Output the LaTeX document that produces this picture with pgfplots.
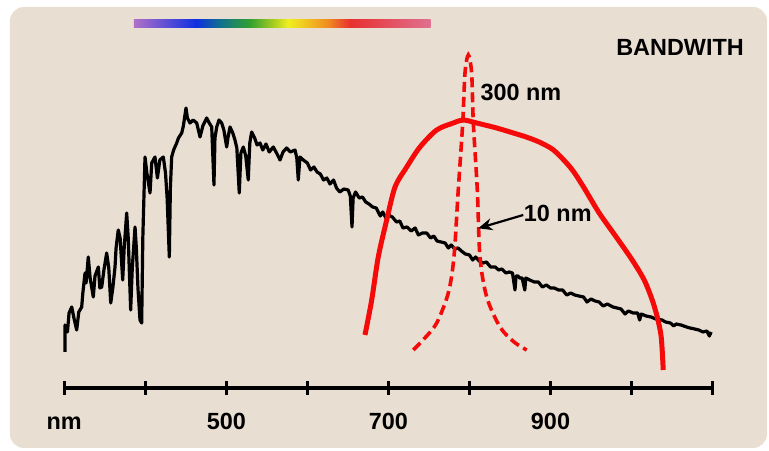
\documentclass[border=0pt]{standalone}
\usepackage{pgfplots}
\pgfplotsset{compat=1.18}
\usepackage{fontspec}
\setmainfont{Liberation Sans}
\usetikzlibrary{arrows.meta}
\definecolor{bgbeige}{RGB}{233,222,210}
\definecolor{myred}{RGB}{245,10,10}
\pgfdeclarehorizontalshading{rainbowbar}{100bp}{%
 color(0bp)=(rgb,255:red,176;green,112;blue,200);
 color(25bp)=(rgb,255:red,176;green,112;blue,200);
 color(35.5bp)=(rgb,255:red,16;green,48;blue,224);
 color(39.5bp)=(rgb,255:red,16;green,112;blue,144);
 color(44.5bp)=(rgb,255:red,48;green,160;blue,48);
 color(48.8bp)=(rgb,255:red,176;green,208;blue,32);
 color(51bp)=(rgb,255:red,240;green,240;blue,32);
 color(57.5bp)=(rgb,255:red,240;green,144;blue,32);
 color(61.5bp)=(rgb,255:red,232;green,48;blue,48);
 color(75bp)=(rgb,255:red,224;green,112;blue,144);
 color(100bp)=(rgb,255:red,224;green,112;blue,144)}
\newcommand{\bigfont}{\fontsize{23.5}{26}\selectfont\bfseries}
\begin{document}
\begin{tikzpicture}
\begin{axis}[
  scale only axis,
  width=648.4bp, height=388bp,
  xmin=300, xmax=1100, ymin=0, ymax=388,
  clip=false,
  axis on top,
  axis x line=bottom,
  axis y line=none,
  axis line style={-, line width=3.4bp},
  xtick={300,400,...,1100},
  xticklabels={nm,,500,,700,,900,,},
  tick align=center,
  major tick length=14bp,
  every tick/.style={black, line width=2.8bp},
  xticklabel style={anchor=base, yshift=-35bp, font=\bigfont},
]
% background
\fill[white] (axis cs:220.79,-63) rectangle (axis cs:1169.6,388);
\fill[bgbeige, rounded corners=14bp] (axis cs:233.1,-60) rectangle (axis cs:1167.1,381);
% rainbow bar
\shade[shading=rainbowbar] (axis cs:386,360.7) rectangle (axis cs:752,368);
% solar spectrum
\addplot[black, line width=3.2bp, line join=round] coordinates {
(301.0,36) (301.0,63) (304,56) (306,75) (309.3,81) (312,70) (315.4,58) (318,76) (321.6,81) (323,95) (325.7,115) (327,105) (329.7,131) (332,110) (335.9,91) (338,112) (342.1,121) (344,100) (346.3,101) (349,118) (352.4,135) (355,120) (357.4,85) (360,100) (362.7,121) (364,140) (366.7,158) (369,150) (372.2,108) (374,140) (377.1,175) (379,150) (382,78) (384,120) (387.4,161) (389,140) (391,100) (393.5,68) (395.6,65) (397,150) (399.7,231) (402,215) (405.9,195) (408,225) (412,231) (415,210) (418,228) (422.3,231) (425,215) (427,190) (429.7,131) (431,200) (432.6,231) (435,238) (438.8,245) (441,250) (445,255) (447,262) (450.3,280) (452,270) (455.2,265) (459,268) (463.5,265) (467.6,251) (471,262) (475.8,270) (479,265) (482,261) (484.8,203) (486,250) (488.2,261) (491,268) (494.3,265) (497,258) (500.5,241) (502,250) (504.6,261) (508,255) (510.7,248) (513,240) (516,195) (518,235) (521,241) (524,232) (527.1,208) (529,245) (531.3,256) (535,250) (538,243) (541.6,245) (545,238) (549,244) (553,236) (558,241) (562,235) (566.3,228) (570,236) (574.5,240) (579,236) (584.8,238) (587,230) (588.8,208) (590.9,231) (595,228) (600,225) (604,218) (608.1,221) (612,216) (616,214) (620,208) (624,210) (628,204) (632.3,208) (636,200) (640,196) (645,199) (650.4,198) (653,192) (655.1,161) (656.5,190) (659.5,196) (664,190) (668,191) (672,186) (676,184) (680.6,181) (685,180) (690,172) (693,176) (697,170) (700,173) (704.9,171) (710,166) (714,167) (718,160) (723,161) (728,157) (733,160) (737,153) (742,155) (747.3,155) (752,150) (756,152) (760,147) (765,146) (770,145) (774,140) (777.5,143) (782,139) (786,140) (790,137) (795,134) (800,133) (804,128) (807.7,131) (812,127) (817,125) (821,126) (826,121) (831.9,121) (836,118) (840,119) (845,115) (849,116) (853.1,115) (856.2,98) (857.5,112) (859.9,112) (862,110) (865,110) (868.3,98) (869.5,110) (874.3,108) (880,106) (885,106) (890,101) (895,103) (900,100) (904.6,100) (910,98) (915,98) (920,93) (925,95) (930,93) (935,92) (940.8,91) (945,86) (950,89) (955,87) (960,86) (965,82) (970,84) (977.1,81) (982,80) (987,79) (992,74) (996,77) (1002,75) (1007.5,75) (1010,68) (1012,74) (1018,72) (1024,71) (1030,69) (1037.6,68) (1042,66) (1048,65) (1052,62) (1055,64) (1061,63) (1067.9,61) (1072,60) (1078,59) (1083,58) (1088,56) (1093,57) (1096,52) (1098.2,56)
};
% broad band filter (300 nm)
\addplot[myred, line width=5bp, smooth, tension=0.5] coordinates {
(671.1,53) (679.4,88) (687.5,131) (697.9,168) (708.2,201) (722.6,221) (739.0,241) (759.6,258) (780.1,265) (792.4,268) (808.9,265) (833.6,260) (854.1,255) (870,251) (886,246) (902,239) (914,230) (927,218) (940,202) (960.1,175) (981.1,151) (1000.8,128) (1015.6,108) (1025.5,88) (1031.7,71) (1036.6,51) (1039.1,18)
};
% narrow band filter (10 nm)
\addplot[myred, line width=3.6bp, dash pattern=on 10bp off 5bp, smooth, tension=0.5] coordinates {
(730.7,38) (745,50) (759.6,65) (773.9,95) (780.9,131) (786.2,198) (791.7,265) (794.5,315) (798.6,333) (802.7,315) (804.8,265) (809.7,198) (813,131) (821.3,91) (837.7,61) (855,46) (870.6,38)
};
\node[font=\bigfont] at (axis cs:863.6,296) {300 nm};
\node[font=\bigfont] at (axis cs:909,175) {10 nm};
\node[font=\bigfont] at (axis cs:1059.8,341) {BANDWITH};
\draw[black, line width=2.2bp, -{Stealth[length=14bp, width=12bp]}] (axis cs:866.4,173) -- (axis cs:810.9,159.7);
\end{axis}
\end{tikzpicture}
\end{document}
